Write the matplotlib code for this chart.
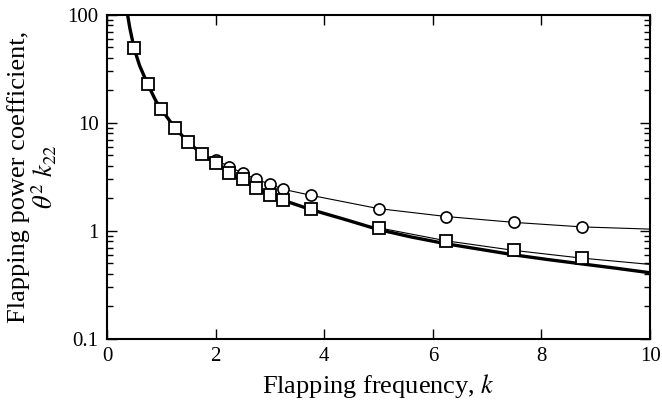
import matplotlib
matplotlib.use("Agg")
import matplotlib.pyplot as plt
from matplotlib.ticker import LogLocator, FixedLocator, NullFormatter, FixedFormatter

plt.rcParams['font.family'] = ['Liberation Serif', 'DejaVu Serif']
plt.rcParams['mathtext.fontset'] = 'stix'

# thick theoretical curve
curve_k = [0.38, 0.42, 0.5, 0.6, 0.75, 0.9, 1.0, 1.25, 1.5, 1.75, 2.0, 2.25, 2.5, 2.75,
           3.0, 3.25, 3.75, 4.4, 5.0, 5.6, 6.25, 7.0, 7.5, 8.1, 8.75, 9.4, 10.0]
curve_v = [100, 76, 49, 34, 22.8, 16.0, 13.4, 9.0, 6.6, 5.15, 4.2, 3.45, 2.95, 2.5,
           2.15, 1.92, 1.58, 1.27, 1.03, 0.88, 0.76, 0.66, 0.60, 0.545, 0.495, 0.45, 0.41]

# square data
sq_k = [0.5, 0.75, 1.0, 1.25, 1.5, 1.75, 2.0, 2.25, 2.5, 2.75, 3.0, 3.25, 3.75, 5.0, 6.25, 7.5, 8.75]
sq_v = [49, 22.8, 13.4, 9.0, 6.6, 5.16, 4.24, 3.47, 3.01, 2.48, 2.15, 1.94, 1.60, 1.07, 0.81, 0.66, 0.56]
sq_line_k = [5.0, 6.25, 7.5, 8.75, 10.0]
sq_line_v = [1.07, 0.81, 0.66, 0.56, 0.49]

# circle data
ci_k = [2.0, 2.25, 2.5, 2.75, 3.0, 3.25, 3.75, 5.0, 6.25, 7.5, 8.75]
ci_v = [4.55, 3.94, 3.42, 3.01, 2.71, 2.43, 2.14, 1.61, 1.36, 1.20, 1.09]
ci_end_k = [10.0]
ci_end_v = [1.04]

xticks = [0, 2, 4, 6, 8, 10]
yticks = [0.1, 1, 10, 100]
yticklabels = ['0.1', '1', '10', '100']

fig = plt.figure(figsize=(6.62, 4.04), dpi=100)
ax = fig.add_axes([0.1616, 0.161, 0.982 - 0.1616, 0.963 - 0.161])

ax.plot(curve_k, curve_v, color='black', lw=2.4, zorder=2)
ax.plot(ci_k + ci_end_k, ci_v + ci_end_v, color='black', lw=0.8, zorder=2)
ax.plot(sq_line_k, sq_line_v, color='black', lw=0.8, zorder=2)
ax.plot(sq_k, sq_v, ls='none', marker='s', ms=8, mfc='white', mec='black', mew=1.3, zorder=4)
ax.plot(ci_k, ci_v, ls='none', marker='o', ms=8, mfc='white', mec='black', mew=1.2, zorder=3)

ax.set_yscale('log')
ax.set_xlim(0, 10)
ax.set_ylim(0.1, 100)
ax.xaxis.set_major_locator(FixedLocator(xticks))
ax.yaxis.set_major_locator(FixedLocator(yticks))
ax.yaxis.set_major_formatter(FixedFormatter(yticklabels))
ax.yaxis.set_minor_locator(LogLocator(base=10, subs=range(2, 10)))
ax.yaxis.set_minor_formatter(NullFormatter())

ax.tick_params(which='both', direction='in', top=True, right=True, labelsize=15, width=1.0)
ax.tick_params(which='major', length=7, pad=6)
ax.tick_params(which='minor', length=4)
for s in ax.spines.values():
    s.set_linewidth(1.5)

ax.set_xlabel('Flapping frequency, $k$', fontsize=19, labelpad=4)
ax.set_ylabel('Flapping power coefficient,\n$\\theta^2\\ k_{22}$', fontsize=19, labelpad=6,
              linespacing=1.0)

fig.savefig('out.png', dpi=100)
